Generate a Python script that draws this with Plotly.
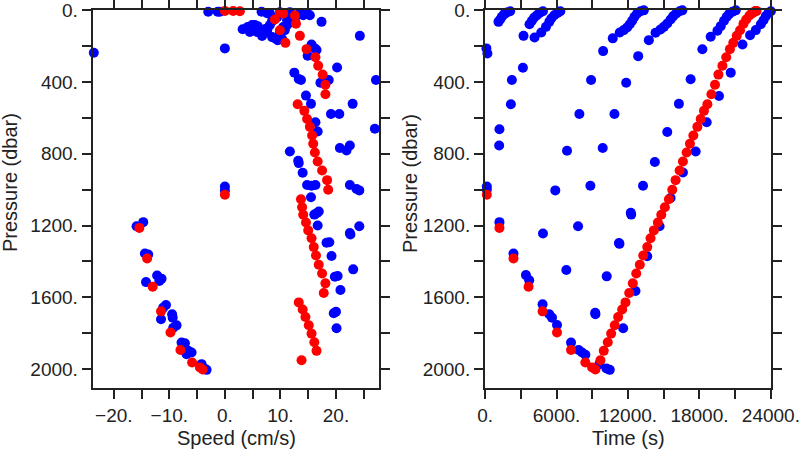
import plotly.graph_objects as go

# ---------------- data ----------------
# red: one profile (time s, pressure dbar, speed cm/s)
red_time = [143, 1204, 2383, 3646, 4825, 6037, 7216, 8420, 8984, 9262,
            9683, 9964, 10300, 10584, 10888, 11173, 11510, 11788, 12100, 12403,
            12690, 12993, 13279, 13616, 13893, 14171, 14508, 14794, 15097, 15434,
            15718, 15998, 16335, 16613, 16924, 17202, 17488, 17825, 18103, 18381,
            18667, 19004, 19307, 19593, 19930, 20250, 20560, 20840, 21134, 21412,
            21698, 21930, 22200, 22400, 22500, 22650, 22734, 22800]
red_pres = [1028, 1213, 1383, 1541, 1678, 1796, 1893, 1963, 1991, 2002,
            1950, 1898, 1850, 1802, 1755, 1709, 1668, 1628, 1576, 1522,
            1467, 1418, 1367, 1320, 1271, 1227, 1183, 1140, 1098, 1053,
            1000, 947, 893, 843, 793, 744, 698, 650, 606, 561,
            524, 468, 415, 359, 310, 262, 217, 182, 143, 112,
            76, 52, 30, 18, 14, 6, 5, 4]
red_speed = [0.0, -15.4, -14.0, -13.0, -11.5, -9.8, -8.0, -5.9, -4.5, -4.0,
             13.8, 16.5, 16.1, 15.6, 15.1, 14.5, 14.0, 13.3, 17.8, 18.1,
             17.5, 16.9, 16.4, 16.0, 15.6, 15.0, 14.6, 14.1, 13.9, 13.7,
             18.6, 18.4, 17.5, 16.7, 16.2, 15.9, 15.7, 15.3, 14.8, 14.3,
             13.1, 18.1, 18.1, 17.6, 16.8, 16.3, 14.7, 10.9, 13.5, 9.9,
             12.8, 9.0, 12.6, 10.5, 9.9, 2.7, 1.5, 0.0]

# blue: all samples, speed vs pressure
blue_speed = [-3.0, -1.3, -0.9, 6.6,
              3.2, 4.1, 4.9, 5.4, 5.9, 5.0, 4.5, 5.8, 6.3, 6.8, 7.6, 7.7, 8.1, 8.5,
              8.6, 9.4, 8.5, 9.0, 9.5, 10.3, 9.9, 10.5, 11.2, 11.7, 11.2, 12.1, 13.0,
              13.5, 14.1, 14.8, 15.3, 8.1, 7.6, 9.9, 11.7, 12.6, 10.8, 7.2, 6.7,
              -23.6, 0.0, 0.0, 0.0, 17.4, 24.3, 15.6, 16.2, 16.5, 14.9, 20.2, 12.5,
              13.3, 13.7, 18.7, 17.2, 27.2, 14.6, 15.5, 23.0, 19.1, 20.6, 16.3, 16.7,
              27.0, 11.7, 20.7, 21.9, 22.5, 13.2, 13.3, 14.0, 14.8, 15.6, 16.3, 22.5,
              23.7, 24.2, 15.5, 16.1, 16.6, 16.9, 16.7, 24.2, 22.5, 22.6, 18.3, 18.8,
              19.2, 23.1, 19.8, 20.3, 20.8, 19.6, 20.0, 20.1,
              -15.9, -14.7, -14.4, -13.8, -14.2, -12.2, -11.4, -11.8, -10.6, -11.1,
              -11.5, -9.5, -9.4, -8.7, -9.3, -7.8, -7.2, -6.6, -6.0, -6.9, -4.2,
              -3.3, -3.8]
blue_speed_pres = [9, 9, 9, 9,
                   106, 94, 83, 83, 89, 111, 122, 122, 117, 128, 122, 100, 83, 61,
                   44, 39, 150, 156, 167, 161, 128, 94, 83, 67, 56, 39, 28,
                   17, 28, 17, 28, 17, 17, 11, 11, 56, 111, 106, 144,
                   237, 213, 982, 1004, 65, 143, 191, 213, 222, 254, 319, 348,
                   383, 389, 389, 404, 389, 476, 522, 522, 578, 578, 624, 676,
                   661, 787, 768, 782, 754, 839, 852, 906, 974, 978, 974, 974,
                   996, 1004, 1042, 1139, 1130, 1122, 1200, 1204, 1241, 1250, 1296, 1293,
                   1370, 1444, 1485, 1481, 1559, 1689, 1680, 1772,
                   1204, 1181, 1356, 1361, 1515, 1478, 1496, 1509, 1643, 1657,
                   1722, 1694, 1713, 1756, 1769, 1852, 1856, 1898, 1907, 1917, 1972,
                   2004, 1994]

# blue: all samples, time vs pressure
blue_time = [110, 194, 143, 143,
             1204, 2383, 3427, 3705, 4825, 5389, 5616, 6037, 7216, 7856, 8142, 8420,
             9599, 10188, 10466,
             3225, 3174, 2248, 2164, 1204, 1179,
             8900, 7915, 6879, 5894, 4858,
             11847, 10862, 9877, 8841, 7805, 6820,
             20629, 19644, 18608, 17682, 16613, 15577, 14651, 13616, 12630, 11594,
             17261, 16276, 15299, 14255, 13262, 12234, 12268, 11241, 11283, 10213, 9245, 9262,
             9910, 10719, 12857, 13750, 18246, 21614, 4151,
             1120, 1263, 1406, 1600, 1827, 2105,
             3730, 3932, 4126, 4353, 4572, 4858,
             4715, 5111, 5389, 5557, 5810, 6088, 6315,
             11308, 11645, 11931, 12150, 12352, 12546, 12773, 13051, 13329,
             14314, 14735, 15013, 15299, 15577, 15804, 16057, 16335, 16562,
             18945, 19509, 19787, 20065, 20292, 20486, 20772, 21050,
             22254, 22734, 23155, 23382, 23576, 23803, 23997]
blue_time_pres = [213, 241, 982, 1000,
                  1181, 1356, 1476, 1505, 1639, 1694, 1713, 1754, 1852, 1893, 1907, 1920,
                  1972, 1996, 2004,
                  143, 321, 389, 524, 663, 754,
                  389, 578, 783, 1004, 1244,
                  404, 578, 768, 978, 1204, 1448,
                  348, 478, 624, 787, 904, 1046, 1204, 1371, 1565, 1772,
                  385, 522, 679, 846, 978, 1129, 1139, 1297, 1302, 1483, 1686, 1694,
                  228, 157, 256, 167, 218, 191, 152,
                  65, 52, 37, 22, 13, 6,
                  78, 59, 41, 28, 15, 6,
                  124, 93, 65, 46, 28, 15, 6,
                  124, 111, 96, 78, 59, 37, 18, 6, 1,
                  126, 107, 93, 74, 52, 33, 18, 6, 1,
                  148, 115, 89, 59, 37, 22, 9, 1,
                  139, 111, 78, 56, 33, 15, 6]

# axis ticks
pres_ticks = [0, 200, 400, 600, 800, 1000, 1200, 1400, 1600, 1800, 2000]
pres_labels = ["0.", "", "400.", "", "800.", "", "1200.", "", "1600.", "", "2000."]
speed_ticks = [-20, -15, -10, -5, 0, 5, 10, 15, 20, 25]
speed_labels = ["\u221220.", "", "\u221210.", "", "0.", "", "10.", "", "20.", ""]
time_ticks = [0, 3000, 6000, 9000, 12000, 15000, 18000, 21000, 24000]
time_labels = ["0.", "", "6000.", "", "12000.", "", "18000.", "", "24000."]

# ---------------- figure ----------------
W, H = 800, 450
FONT = "Liberation Sans, Arial, sans-serif"
TXT = "#222222"
BLUE = "#0000ff"
RED = "#ff0000"
MS = 10

fig = go.Figure()
fig.add_trace(go.Scatter(x=blue_speed, y=blue_speed_pres, mode="markers",
                         marker=dict(color=BLUE, size=MS), cliponaxis=False,
                         xaxis="x", yaxis="y", showlegend=False))
fig.add_trace(go.Scatter(x=red_speed, y=red_pres, mode="markers",
                         marker=dict(color=RED, size=MS), cliponaxis=False,
                         xaxis="x", yaxis="y", showlegend=False))
fig.add_trace(go.Scatter(x=blue_time, y=blue_time_pres, mode="markers",
                         marker=dict(color=BLUE, size=MS), cliponaxis=False,
                         xaxis="x2", yaxis="y2", showlegend=False))
fig.add_trace(go.Scatter(x=red_time, y=red_pres, mode="markers",
                         marker=dict(color=RED, size=MS), cliponaxis=False,
                         xaxis="x2", yaxis="y2", showlegend=False))

axis_common = dict(showline=True, linecolor="#222222", linewidth=2, mirror="allticks",
                   ticks="outside", ticklen=9, tickwidth=1.6, tickcolor="#222222",
                   showgrid=False, zeroline=False, automargin=False,
                   ticklabeloverflow="allow",
                   tickfont=dict(family=FONT, size=19, color=TXT))

def px_x(p):
    return p / W

def px_y(p):
    return 1 - p / H

fig.update_layout(
    width=W, height=H,
    margin=dict(l=0, r=0, t=0, b=0, pad=0),
    paper_bgcolor="white", plot_bgcolor="white",
    xaxis=dict(domain=[px_x(92.7), px_x(379.3)], range=[-23.8, 27.8], anchor="y",
               tickmode="array", tickvals=speed_ticks, ticktext=speed_labels, **axis_common),
    yaxis=dict(domain=[px_y(388), px_y(10)], range=[2105, -1], anchor="x",
               tickmode="array", tickvals=pres_ticks, ticktext=pres_labels, **axis_common),
    xaxis2=dict(domain=[px_x(485), px_x(771)], range=[-10, 24010], anchor="y2",
                tickmode="array", tickvals=time_ticks, ticktext=time_labels, **axis_common),
    yaxis2=dict(domain=[px_y(388), px_y(10)], range=[2105, -1], anchor="x2",
                tickmode="array", tickvals=pres_ticks, ticktext=pres_labels, **axis_common),
)

def ann(text, px, py, angle=0):
    fig.add_annotation(text=text, x=px_x(px), y=px_y(py), xref="paper", yref="paper",
                       showarrow=False, textangle=angle, xanchor="center", yanchor="middle",
                       font=dict(family=FONT, size=20, color=TXT))

ann("Pressure (dbar)", 10, 183, -90)
ann("Pressure (dbar)", 410, 183, -90)
ann("Speed (cm/s)", 236, 438)
ann("Time (s)", 628, 438)

# remove the browser's default 8 px body margin so the figure sits at the page origin
fig.write_html("out.html", config={"displayModeBar": False},
               post_script="document.body.style.margin='0';document.body.style.overflow='hidden';")
